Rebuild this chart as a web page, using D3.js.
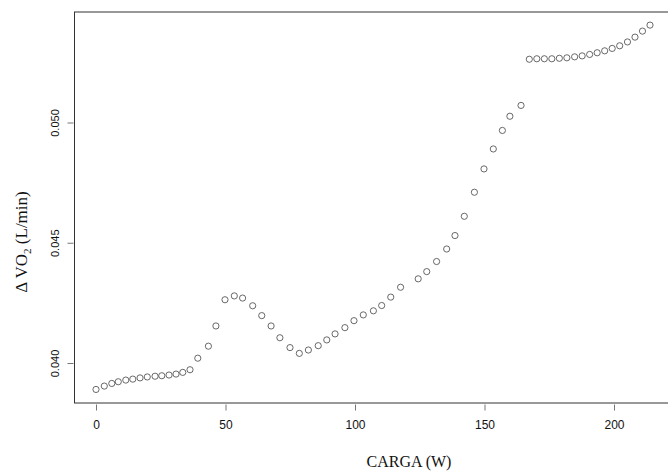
<!DOCTYPE html>
<html>
<head>
<meta charset="utf-8">
<script src="https://cdn.jsdelivr.net/npm/d3@7/dist/d3.min.js"></script>
<style>
  html, body { margin: 0; padding: 0; background: #fff; }
  svg { display: block; }
</style>
</head>
<body>
<svg id="chart" width="668" height="471"></svg>
<script>
// ---- data ----
const carga = [0, 3.2, 6.1, 8.6, 11.5, 14.2, 17.0, 19.8, 22.8, 25.4, 28.2, 30.9, 33.5, 36.3,
  39.3, 43.4, 46.3, 49.8, 53.4, 56.6, 60.5, 64.0, 67.6, 71.0, 74.9, 78.5,
  82.0, 85.8, 89.1, 92.3, 96.1, 99.6, 103.2, 107.1, 110.3, 113.8, 117.6,
  124.4, 127.7, 131.5, 135.4, 138.6, 142.2, 146.1, 149.8, 153.4, 156.9, 159.8, 164.1,
  167.3, 170.2, 173.1, 176.0, 178.9, 181.8, 184.8, 187.7, 190.6, 193.5, 196.4, 199.3,
  202.2, 205.2, 208.1, 211.0, 213.9];
const dvo2 = [0.03890, 0.03904, 0.03915, 0.03922, 0.03929, 0.03933, 0.03938, 0.03942, 0.03945,
  0.03947, 0.03950, 0.03954, 0.03961, 0.03972,
  0.04020, 0.04070, 0.04154, 0.04263, 0.04279, 0.04270, 0.04238, 0.04197, 0.04154, 0.04105,
  0.04064, 0.04040,
  0.04054, 0.04072, 0.04096, 0.04121, 0.04147, 0.04176, 0.04200, 0.04217, 0.04239, 0.04274, 0.04315,
  0.04350, 0.04380, 0.04422, 0.04474, 0.04530, 0.04610, 0.04710, 0.04807, 0.04890, 0.04967,
  0.05026, 0.05071,
  0.05263, 0.05265, 0.05265, 0.05265, 0.05267, 0.05269, 0.05273, 0.05277, 0.05283, 0.05290,
  0.05298, 0.05308, 0.05319, 0.05335, 0.05355, 0.05380, 0.05405];
const xTicks = [0, 50, 100, 150, 200];
const yTicks = [0.040, 0.045, 0.050];
const xTitle = "CARGA (W)";

// ---- layout ----
const svg = d3.select("#chart");
const plot = { left: 74.5, top: 12, bottom: 403, right: 673 };

const x = d3.scaleLinear().domain([0, 200]).range([96, 614]);
const y = d3.scaleLinear().domain([0.040, 0.050]).range([363, 122.5]);

// frame (box)
svg.append("rect")
  .attr("x", plot.left).attr("y", plot.top)
  .attr("width", plot.right - plot.left).attr("height", plot.bottom - plot.top)
  .attr("fill", "none").attr("stroke", "#333").attr("stroke-width", 1);

// x axis (ticks below the box, no domain line)
const xAxis = svg.append("g")
  .attr("transform", `translate(0,${plot.bottom + 1.5})`)
  .call(d3.axisBottom(x).tickValues(xTicks).tickSize(6).tickPadding(10).tickFormat(d3.format("d")));
xAxis.select(".domain").remove();
xAxis.selectAll("line").attr("stroke", "#777").attr("stroke-width", 1);
xAxis.selectAll("text")
  .attr("font-family", "'Liberation Sans', Arial, sans-serif")
  .attr("font-size", 12).attr("fill", "#111");

// y axis
const yAxis = svg.append("g")
  .attr("transform", `translate(${plot.left - 1},0)`)
  .call(d3.axisLeft(y).tickValues(yTicks).tickSize(6).tickFormat(d3.format(".3f")));
yAxis.select(".domain").remove();
yAxis.selectAll("line").attr("stroke", "#777").attr("stroke-width", 1);
yAxis.selectAll("text")
  .attr("font-family", "'Liberation Sans', Arial, sans-serif")
  .attr("font-size", 11).attr("fill", "#111")
  .attr("text-anchor", "middle")
  .attr("x", 0).attr("dy", 0)
  .attr("transform", d => `translate(-15,${0}) rotate(-90)`)
  .attr("dominant-baseline", "auto");

// points
svg.append("g").selectAll("circle")
  .data(carga.map((c, i) => ({ c, v: dvo2[i] })))
  .join("circle")
  .attr("cx", d => x(d.c)).attr("cy", d => y(d.v))
  .attr("r", 3.1)
  .attr("fill", "none").attr("stroke", "#444").attr("stroke-width", 0.8);

// titles
svg.append("text")
  .attr("x", 409).attr("y", 467)
  .attr("text-anchor", "middle")
  .attr("font-family", "'Liberation Serif', 'Times New Roman', serif")
  .attr("font-size", 16).attr("fill", "#111")
  .text(xTitle);

const yt = svg.append("text")
  .attr("transform", "translate(27,242) rotate(-90)")
  .attr("text-anchor", "middle")
  .attr("font-family", "'Liberation Serif', 'Times New Roman', serif")
  .attr("font-size", 17).attr("fill", "#111");
yt.append("tspan").text("\u0394 VO");
yt.append("tspan").attr("font-size", 11).attr("dy", 4).text("2");
yt.append("tspan").attr("dy", -4).text(" (L/min)");
</script>
</body>
</html>
